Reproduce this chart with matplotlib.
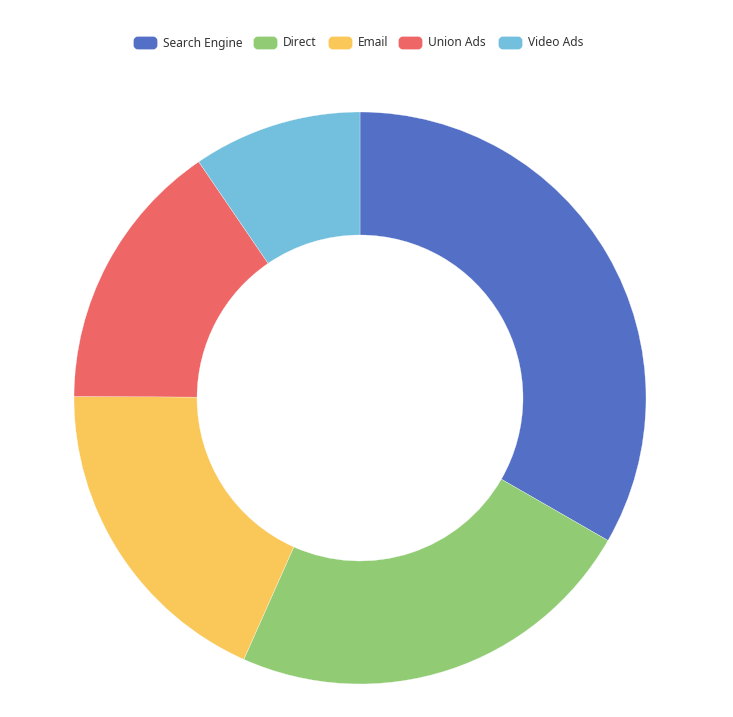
import matplotlib
matplotlib.use("Agg")
import matplotlib.pyplot as plt
from matplotlib.patches import FancyBboxPatch

W, H = 733, 717
CATEGORIES = ["Search Engine", "Direct", "Email", "Union Ads", "Video Ads"]
VALUES = [1048, 735, 580, 484, 300]
COLORS = ["#5470c6", "#91cc75", "#fac858", "#ee6666", "#73c0de"]

# legend icon left edges, in pixels
LEGEND_X = [133, 253, 328, 398, 498]


def main():
    plt.rcParams["font.family"] = ["Noto Sans", "DejaVu Sans"]
    fig = plt.figure(figsize=(W / 100, H / 100), dpi=100)
    ax = fig.add_axes([0, 0, 1, 1])

    outer, inner = 286, 163
    ax.pie(VALUES, colors=COLORS, startangle=90, counterclock=False,
           center=(360, H - 398), radius=outer, frame=True,
           wedgeprops=dict(width=outer - inner, edgecolor="white", linewidth=0.2))
    ax.set_xlim(0, W)
    ax.set_ylim(0, H)
    ax.set_aspect("equal")
    ax.axis("off")

    y = H - 43
    for x, name, color in zip(LEGEND_X, CATEGORIES, COLORS):
        ax.add_patch(FancyBboxPatch((x + 2, y - 5), 21, 10,
                                    boxstyle="round,pad=0,rounding_size=3",
                                    facecolor=color, edgecolor=color, linewidth=2))
        ax.text(x + 30, y, name, fontsize=8.6, color="#333333",
                va="center", ha="left")

    fig.savefig("out.png", dpi=100)
    plt.close(fig)


if __name__ == "__main__":
    main()
